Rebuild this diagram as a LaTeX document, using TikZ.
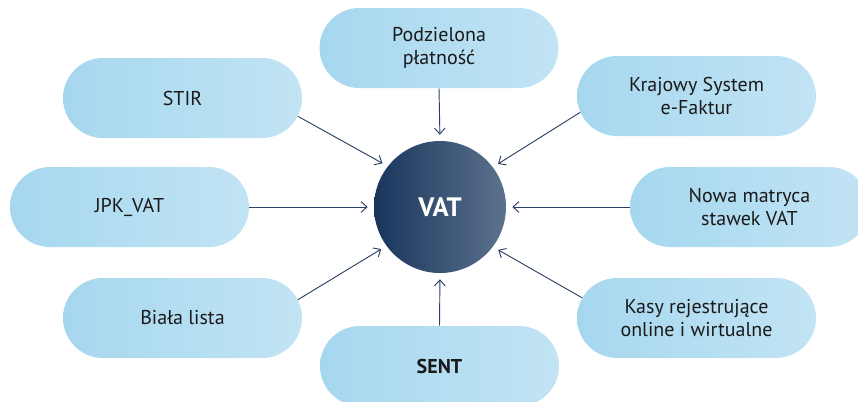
\documentclass[tikz,border=0pt]{standalone}
\usepackage{fontspec}
\setmainfont{PT Sans}
\usetikzlibrary{shapes.misc,arrows.meta}
\definecolor{pillL}{HTML}{A6D7EF}
\definecolor{pillR}{HTML}{C2E4F4}
\definecolor{vatL}{HTML}{19355C}
\definecolor{vatR}{HTML}{5C728E}
\definecolor{arr}{HTML}{2B4163}
\definecolor{txt}{HTML}{1A1A1A}
\begin{document}
\begin{tikzpicture}[x=0.75pt,y=-0.75pt,
  pill/.style={rounded rectangle, minimum width=179.25pt, minimum height=60pt,
    inner sep=0pt, left color=pillL, right color=pillR, text=txt, align=center,
    font=\fontsize{15}{17.6}\selectfont},
  hub/.style={circle, minimum size=99pt, inner sep=0pt, left color=vatL, right color=vatR,
    text=white, font=\fontsize{20}{24}\selectfont\bfseries},
  conn/.style={draw=arr, line width=0.7pt, -{Straight Barb[length=4.5pt,width=8pt]}, shorten >=4.5pt}]
\useasboundingbox (0,0) rectangle (858,401);
\clip (0,0) rectangle (858,401);
\node[hub] (vat) at (440,207) {VAT};
\node[pill] (pod) at (439,48) {Podzielona\\płatność};
\node[pill] (stir) at (182.5,98) {STIR};
\node[pill] (kse) at (696.5,96) {Krajowy System\\e-Faktur};
\node[pill] (jpk) at (129.5,207) {JPK\_VAT};
\node[pill] (nowa) at (749.5,207) {Nowa matryca\\stawek VAT};
\node[pill] (biala) at (182.5,318) {Biała lista};
\node[pill] (kasy) at (696.5,318) {Kasy rejestrujące\\online i wirtualne};
\node[pill, font=\fontsize{15}{17.6}\selectfont\bfseries] (sent) at (439.5,366) {SENT};
\draw[conn] (pod.south) -- (vat.90);
\draw[conn] (stir.-9.3) -- (vat.142.8);
\draw[conn] (kse.188.8) -- (vat.37.2);
\draw[conn] (jpk.east) -- (vat.180);
\draw[conn] (nowa.west) -- (vat.0);
\draw[conn] (biala.9.3) -- (vat.216);
\draw[conn] (kasy.170.7) -- (vat.323.4);
\draw[conn] (sent.north) -- (vat.270);
\end{tikzpicture}
\end{document}
